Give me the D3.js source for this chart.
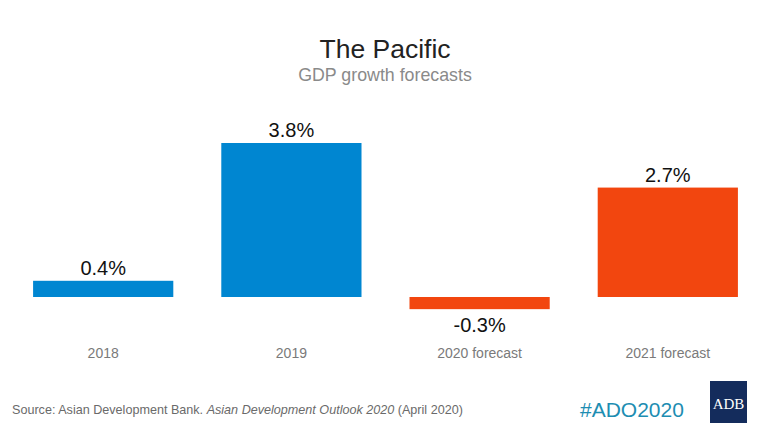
<!DOCTYPE html>
<html><head><meta charset="utf-8">
<script src="https://cdn.jsdelivr.net/npm/d3@7"></script>
<style>body{margin:0;background:#fff}svg{display:block}</style>
</head><body>
<svg id="c" width="770" height="433"></svg>
<script>
const categories = ["2018", "2019", "2020 forecast", "2021 forecast"];
const values = [0.4, 3.8, -0.3, 2.7];
const valueLabels = ["0.4%", "3.8%", "-0.3%", "2.7%"];
const barColors = ["#0086d1", "#0086d1", "#f2460f", "#f2460f"];

const svg = d3.select("#c");
const font = "Liberation Sans, Arial, sans-serif";

const x = d3.scaleBand().domain(categories).range([9, 762]).paddingInner(0.255).paddingOuter(0.128);
const y = d3.scaleLinear().domain([0, 3.8]).range([297, 143]);

svg.append("text").attr("x", 385).attr("y", 58).attr("text-anchor", "middle")
  .attr("font-family", font).attr("font-size", 26.5).attr("fill", "#222").text("The Pacific");
svg.append("text").attr("x", 385).attr("y", 81).attr("text-anchor", "middle")
  .attr("font-family", font).attr("font-size", 17.8).attr("fill", "#8a8a8a").text("GDP growth forecasts");

svg.selectAll("rect.bar").data(values).join("rect").attr("class", "bar")
  .attr("x", (d, i) => x(categories[i]))
  .attr("width", x.bandwidth())
  .attr("y", d => Math.min(y(d), y(0)))
  .attr("height", d => Math.abs(y(d) - y(0)))
  .attr("fill", (d, i) => barColors[i]);

svg.selectAll("text.val").data(values).join("text").attr("class", "val")
  .attr("x", (d, i) => x(categories[i]) + x.bandwidth() / 2)
  .attr("y", d => d >= 0 ? y(d) - 6 : y(d) + 23)
  .attr("text-anchor", "middle").attr("font-family", font).attr("font-size", 20).attr("fill", "#111")
  .text((d, i) => valueLabels[i]);

const xAxis = d3.axisBottom(x).tickSize(0).tickPadding(0);
const gx = svg.append("g").attr("transform", "translate(0,358)").call(xAxis);
gx.select(".domain").remove();
gx.selectAll("text").attr("font-family", font).attr("font-size", 14).attr("fill", "#7a7a7a").attr("dy", "0");

const src = svg.append("text").attr("x", 12).attr("y", 414).attr("font-family", font).attr("font-size", 12.6).attr("fill", "#6a6a6a");
src.append("tspan").text("Source: Asian Development Bank. ");
src.append("tspan").attr("font-style", "italic").text("Asian Development Outlook 2020");
src.append("tspan").text(" (April 2020)");

svg.append("text").attr("x", 580).attr("y", 417).attr("font-family", font).attr("font-size", 21).attr("fill", "#1d8db2").text("#ADO2020");

svg.append("rect").attr("x", 710).attr("y", 381).attr("width", 37).attr("height", 42).attr("fill", "#142c5c");
svg.append("text").attr("x", 728.5).attr("y", 409).attr("text-anchor", "middle").attr("font-family", "Liberation Serif, Times New Roman, serif")
  .attr("font-size", 15).attr("fill", "#fff").text("ADB");
</script>
</body></html>
